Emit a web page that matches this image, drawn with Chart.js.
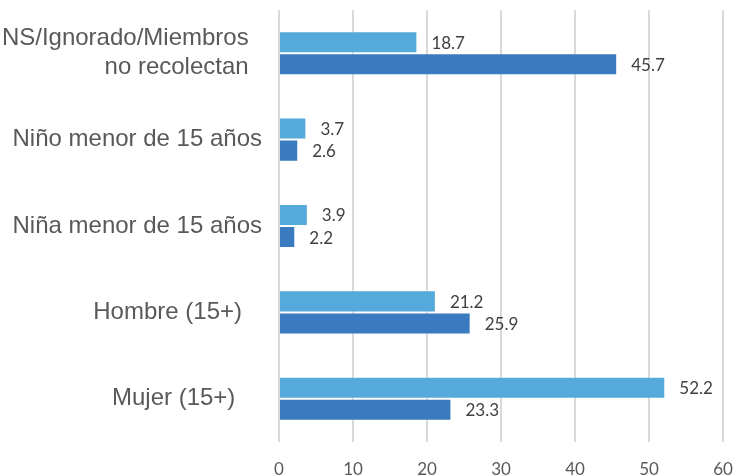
<!DOCTYPE html>
<html>
<head>
<meta charset="utf-8">
<script src="https://cdn.jsdelivr.net/npm/chart.js@4/dist/chart.umd.min.js"></script>
<style>
  html, body { margin: 0; padding: 0; background: #ffffff; }
  #wrap { width: 735px; height: 475px; position: relative; }
</style>
</head>
<body>
<div id="wrap"><canvas id="c" width="735" height="475"></canvas></div>
<script>
const categories = [
  ['NS/Ignorado/Miembros  ', 'no recolectan  '],
  'Niño menor de 15 años',
  'Niña menor de 15 años',
  'Hombre (15+)   ',
  'Mujer (15+)    '
];
const seriesLight = [18.7, 3.7, 3.9, 21.2, 52.2];
const seriesDark = [45.7, 2.6, 2.2, 25.9, 23.3];
const xTicks = [0, 10, 20, 30, 40, 50, 60];

const valueLabels = {
  id: 'valueLabels',
  afterDatasetsDraw(chart) {
    const ctx = chart.ctx;
    ctx.save();
    ctx.font = '17px Lato, "Open Sans", sans-serif';
    ctx.fillStyle = '#404040';
    ctx.textAlign = 'left';
    ctx.textBaseline = 'middle';
    chart.data.datasets.forEach((ds, di) => {
      const meta = chart.getDatasetMeta(di);
      meta.data.forEach((el, i) => {
        ctx.fillText(ds.data[i].toFixed(1), el.x + 14, el.y + 1);
      });
    });
    ctx.restore();
  }
};

new Chart(document.getElementById('c'), {
  type: 'bar',
  data: {
    labels: categories,
    datasets: [
      { label: 'Serie 1', data: seriesLight, backgroundColor: '#56AADB',
        borderColor: 'rgba(255,255,255,0.2)', borderWidth: 1,
        categoryPercentage: 0.51, barPercentage: 1.0 },
      { label: 'Serie 2', data: seriesDark, backgroundColor: '#3A7BBF',
        borderColor: 'rgba(255,255,255,0.2)', borderWidth: 1,
        categoryPercentage: 0.51, barPercentage: 1.0 }
    ]
  },
  options: {
    indexAxis: 'y',
    responsive: false,
    animation: false,
    layout: { padding: { top: 10, right: 12, left: 0, bottom: 0 } },
    plugins: { legend: { display: false }, tooltip: { enabled: false } },
    scales: {
      x: {
        min: 0, max: 60,
        afterBuildTicks(scale) { scale.ticks = xTicks.map(v => ({ value: v })); },
        afterFit(scale) {
          scale.height = 33;
          scale.paddingLeft = 0; scale.paddingRight = 0;
          scale.paddingTop = 0; scale.paddingBottom = 0;
        },
        grid: { color: '#d9d9d9', lineWidth: 2, drawTicks: false },
        border: { display: false },
        ticks: {
          padding: 17,
          color: '#595959',
          font: { family: 'Lato, "Open Sans", sans-serif', size: 17 }
        }
      },
      y: {
        afterFit(scale) {
          scale.width = 279;
          scale.paddingLeft = 0; scale.paddingRight = 0;
          scale.paddingTop = 0; scale.paddingBottom = 0;
        },
        grid: { display: false, drawTicks: false },
        border: { display: false },
        ticks: {
          padding: 17,
          color: '#595959',
          font: { family: '"Liberation Sans", Arial, sans-serif', size: 24, lineHeight: 1.22 }
        }
      }
    }
  },
  plugins: [valueLabels]
});
</script>
</body>
</html>
